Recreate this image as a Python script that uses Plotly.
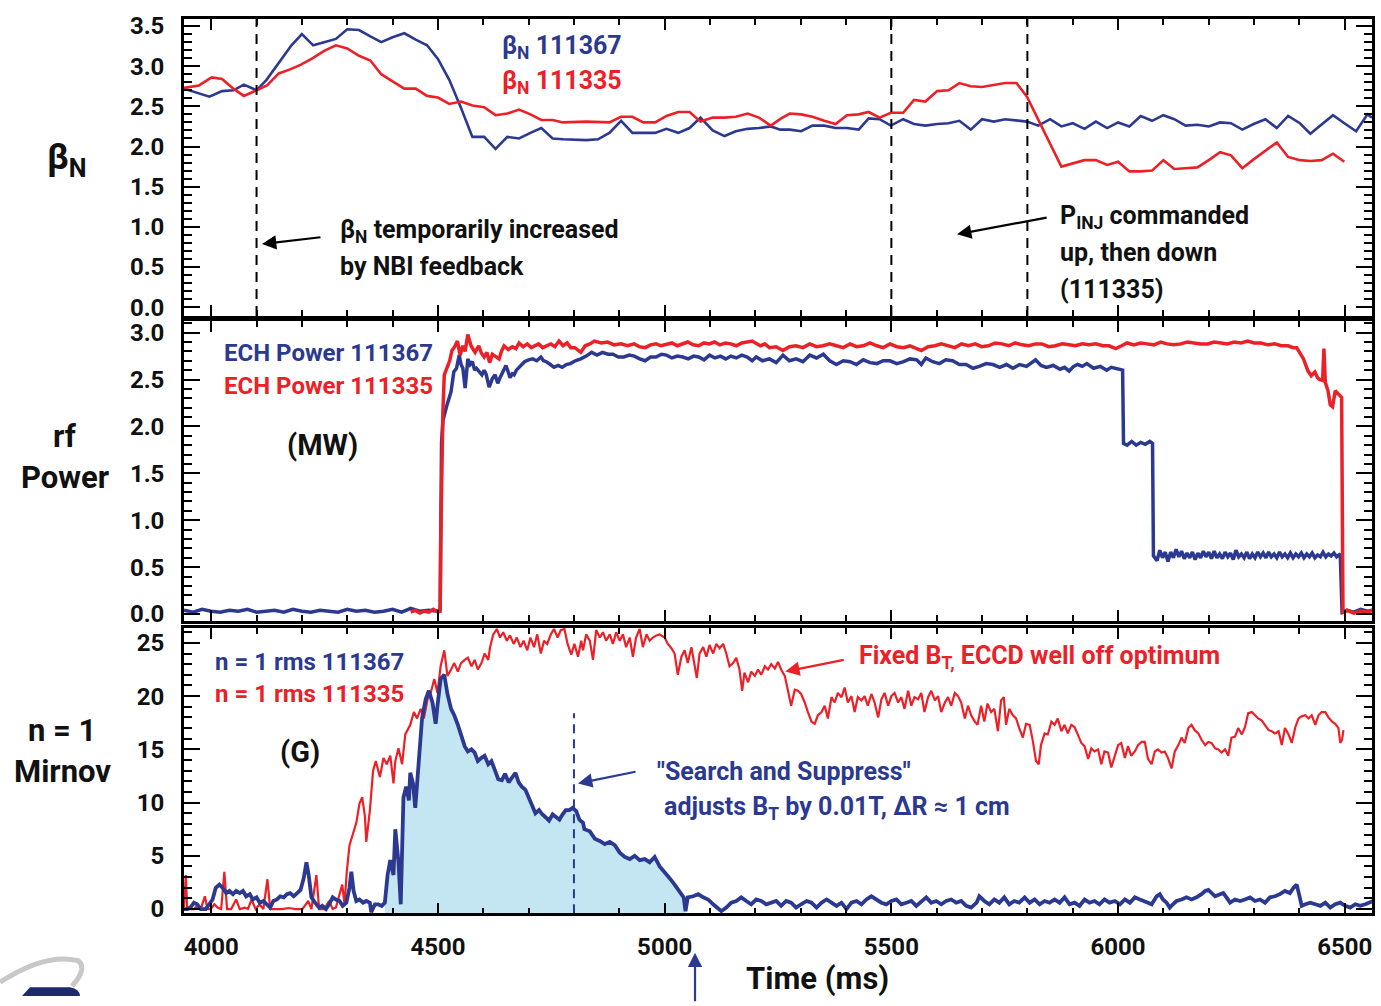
import plotly.graph_objects as go

W, H = 1381, 1006
BLUE = "#2b3990"
RED = "#ec2027"
FILL = "#c4e6f3"
FONT = "Roboto, Liberation Sans, Arial, sans-serif"

# ---------------- data ----------------
x_range = [3940, 6560]
x_ticks = [4000, 4500, 5000, 5500, 6000, 6500]
dash_lines_top = [4100, 5500, 5800]
search_line_t = 4800

bn_111367 = [(3940, 2.72), (3996, 2.62), (4024, 2.69), (4049, 2.70), (4072, 2.77), (4100, 2.70), (4122, 2.83),
             (4147, 3.02), (4177, 3.26), (4200, 3.40), (4225, 3.26), (4251, 3.30), (4275, 3.34), (4300, 3.46),
             (4326, 3.45), (4351, 3.37), (4375, 3.30), (4400, 3.36), (4426, 3.41), (4451, 3.33), (4476, 3.26),
             (4500, 3.09), (4525, 2.83), (4551, 2.48), (4576, 2.12), (4602, 2.12), (4627, 1.97), (4653, 2.12),
             (4679, 2.10), (4704, 2.17), (4728, 2.23), (4753, 2.10), (4776, 2.09), (4827, 2.08), (4853, 2.09),
             (4878, 2.17), (4904, 2.32), (4929, 2.17), (4953, 2.17), (4979, 2.17), (5004, 2.22), (5030, 2.17),
             (5055, 2.23), (5079, 2.36), (5106, 2.20), (5132, 2.13), (5157, 2.19), (5183, 2.22), (5208, 2.23),
             (5234, 2.25), (5255, 2.21), (5276, 2.21), (5301, 2.19), (5326, 2.26), (5352, 2.26), (5377, 2.23),
             (5402, 2.23), (5428, 2.21), (5450, 2.35), (5474, 2.34), (5499, 2.26), (5526, 2.34), (5550, 2.28),
             (5575, 2.26), (5601, 2.28), (5626, 2.29), (5650, 2.32), (5675, 2.21), (5700, 2.34), (5726, 2.31),
             (5751, 2.34), (5776, 2.32), (5799, 2.31), (5824, 2.26), (5850, 2.34), (5875, 2.25), (5900, 2.29),
             (5926, 2.22), (5951, 2.31), (5976, 2.23), (6000, 2.30), (6025, 2.25), (6050, 2.38), (6075, 2.32),
             (6100, 2.39), (6124, 2.34), (6149, 2.26), (6175, 2.27), (6200, 2.25), (6225, 2.30), (6249, 2.29),
             (6274, 2.21), (6299, 2.28), (6325, 2.34), (6350, 2.23), (6375, 2.38), (6401, 2.29), (6424, 2.16),
             (6449, 2.28), (6474, 2.39), (6499, 2.29), (6525, 2.19), (6550, 2.40), (6560, 2.36)]

bn_111335 = [(3940, 2.73), (3973, 2.76), (4001, 2.86), (4024, 2.84), (4049, 2.72), (4072, 2.63), (4100, 2.70),
             (4123, 2.76), (4149, 2.91), (4174, 2.96), (4198, 3.02), (4224, 3.10), (4249, 3.19), (4275, 3.26),
             (4300, 3.22), (4326, 3.13), (4351, 3.07), (4375, 2.90), (4400, 2.81), (4426, 2.72), (4451, 2.72),
             (4476, 2.63), (4500, 2.61), (4525, 2.53), (4551, 2.56), (4576, 2.51), (4602, 2.49), (4627, 2.39),
             (4653, 2.41), (4679, 2.46), (4704, 2.40), (4728, 2.33), (4753, 2.33), (4776, 2.30), (4827, 2.31),
             (4878, 2.30), (4904, 2.37), (4929, 2.37), (4953, 2.30), (4979, 2.30), (5004, 2.38), (5030, 2.43),
             (5055, 2.43), (5079, 2.31), (5106, 2.36), (5132, 2.36), (5157, 2.37), (5183, 2.41), (5208, 2.36),
             (5234, 2.26), (5257, 2.35), (5276, 2.41), (5301, 2.40), (5326, 2.37), (5352, 2.32), (5377, 2.28),
             (5402, 2.39), (5428, 2.40), (5450, 2.43), (5474, 2.36), (5499, 2.42), (5526, 2.42), (5550, 2.58),
             (5575, 2.56), (5601, 2.69), (5626, 2.70), (5650, 2.79), (5675, 2.75), (5700, 2.74), (5726, 2.77),
             (5751, 2.79), (5776, 2.79), (5799, 2.62), (5875, 1.75), (5900, 1.79), (5926, 1.83), (5951, 1.83),
             (5976, 1.77), (6000, 1.81), (6025, 1.69), (6050, 1.69), (6075, 1.70), (6100, 1.83), (6124, 1.72),
             (6149, 1.73), (6175, 1.74), (6200, 1.83), (6225, 1.93), (6249, 1.89), (6274, 1.73), (6299, 1.84),
             (6325, 1.95), (6350, 2.05), (6375, 1.87), (6401, 1.83), (6424, 1.82), (6449, 1.83), (6474, 1.91),
             (6499, 1.81)]

ech_111367 = [(3940, 0.04), (3960, 0.02), (3980, 0.05), (4000, 0.03), (4020, 0.02), (4040, 0.04), (4060, 0.03),
              (4080, 0.05), (4100, 0.02), (4120, 0.03), (4140, 0.04), (4160, 0.02), (4180, 0.05), (4200, 0.03),
              (4220, 0.02), (4240, 0.04), (4260, 0.03), (4280, 0.02), (4300, 0.05), (4320, 0.03), (4340, 0.04),
              (4360, 0.02), (4380, 0.03), (4400, 0.05), (4420, 0.02), (4440, 0.06), (4460, 0.03), (4480, 0.04),
              (4500, 0.03), (4505, 0.05), (4508, 1.83), (4511, 2.06), (4520, 2.23), (4529, 2.37), (4535, 2.58),
              (4541, 2.62), (4547, 2.76), (4551, 2.66), (4555, 2.62), (4560, 2.41), (4566, 2.72), (4571, 2.66),
              (4576, 2.69), (4581, 2.60), (4585, 2.62), (4591, 2.58), (4597, 2.55), (4602, 2.60), (4606, 2.56),
              (4613, 2.42), (4620, 2.51), (4626, 2.55), (4632, 2.46), (4637, 2.52), (4641, 2.56), (4646, 2.62),
              (4650, 2.65), (4655, 2.58), (4659, 2.52), (4664, 2.56), (4668, 2.55), (4673, 2.60), (4679, 2.63),
              (4685, 2.66), (4691, 2.69), (4700, 2.71), (4709, 2.72), (4718, 2.70), (4727, 2.74), (4733, 2.70),
              (4739, 2.69), (4748, 2.66), (4756, 2.63), (4765, 2.65), (4774, 2.63), (4783, 2.66), (4792, 2.67),
              (4803, 2.70), (4815, 2.72), (4827, 2.75), (4839, 2.79), (4851, 2.76), (4863, 2.79), (4875, 2.77),
              (4886, 2.77), (4898, 2.74), (4910, 2.74), (4922, 2.76), (4933, 2.75), (4945, 2.72), (4957, 2.70),
              (4969, 2.74), (4981, 2.74), (4993, 2.77), (5004, 2.76), (5016, 2.73), (5028, 2.75), (5040, 2.74),
              (5052, 2.72), (5064, 2.75), (5075, 2.74), (5087, 2.71), (5099, 2.76), (5111, 2.73), (5123, 2.75),
              (5135, 2.72), (5146, 2.75), (5158, 2.73), (5170, 2.76), (5182, 2.74), (5193, 2.70), (5202, 2.74),
              (5216, 2.70), (5231, 2.72), (5246, 2.68), (5261, 2.76), (5275, 2.70), (5290, 2.72), (5305, 2.69),
              (5320, 2.76), (5335, 2.73), (5350, 2.77), (5364, 2.70), (5379, 2.66), (5394, 2.70), (5409, 2.69),
              (5423, 2.66), (5438, 2.71), (5453, 2.68), (5468, 2.67), (5482, 2.70), (5497, 2.70), (5512, 2.67),
              (5527, 2.69), (5541, 2.72), (5556, 2.71), (5566, 2.66), (5576, 2.73), (5591, 2.69), (5606, 2.67),
              (5620, 2.71), (5635, 2.70), (5650, 2.66), (5665, 2.66), (5680, 2.62), (5694, 2.64), (5709, 2.67),
              (5724, 2.66), (5739, 2.63), (5754, 2.66), (5768, 2.62), (5783, 2.66), (5798, 2.64), (5818, 2.71),
              (5830, 2.65), (5842, 2.63), (5857, 2.65), (5872, 2.61), (5882, 2.63), (5892, 2.59), (5902, 2.64),
              (5911, 2.66), (5921, 2.64), (5931, 2.67), (5946, 2.62), (5961, 2.64), (5975, 2.60), (5985, 2.63),
              (5998, 2.61), (6010, 2.60), (6012, 1.82), (6020, 1.80), (6030, 1.84), (6040, 1.80), (6050, 1.83),
              (6060, 1.81), (6070, 1.84), (6076, 1.82), (6078, 0.62), (6086, 0.57), (6092, 0.68), (6098, 0.60),
              (6104, 0.66), (6110, 0.56), (6116, 0.66), (6122, 0.60), (6128, 0.69), (6134, 0.61), (6140, 0.67),
              (6146, 0.59), (6152, 0.65), (6158, 0.60), (6164, 0.66), (6170, 0.58), (6176, 0.65), (6182, 0.60),
              (6188, 0.67), (6194, 0.61), (6200, 0.66), (6206, 0.59), (6212, 0.67), (6218, 0.60), (6224, 0.64),
              (6230, 0.59), (6236, 0.66), (6242, 0.61), (6248, 0.65), (6254, 0.58), (6260, 0.68), (6266, 0.61),
              (6272, 0.64), (6278, 0.60), (6284, 0.66), (6290, 0.59), (6296, 0.64), (6302, 0.60), (6308, 0.66),
              (6314, 0.61), (6320, 0.65), (6326, 0.60), (6332, 0.66), (6338, 0.61), (6344, 0.64), (6350, 0.60),
              (6356, 0.66), (6362, 0.61), (6368, 0.64), (6374, 0.60), (6380, 0.65), (6386, 0.60), (6392, 0.64),
              (6398, 0.61), (6404, 0.65), (6410, 0.60), (6416, 0.64), (6422, 0.61), (6428, 0.65), (6434, 0.60),
              (6440, 0.63), (6446, 0.61), (6452, 0.66), (6458, 0.61), (6464, 0.64), (6470, 0.62), (6476, 0.65),
              (6482, 0.61), (6490, 0.64), (6494, 0.02), (6505, 0.04), (6520, 0.02), (6535, 0.05), (6550, 0.03),
              (6560, 0.04)]

ech_111335 = [(4440, 0.02), (4450, 0.04), (4460, 0.01), (4470, 0.03), (4480, 0.02), (4490, 0.05), (4500, 0.02),
              (4505, 0.03), (4506, 0.75), (4509, 1.81), (4511, 2.16), (4514, 2.55), (4520, 2.62), (4526, 2.70),
              (4531, 2.81), (4537, 2.85), (4543, 2.91), (4549, 2.76), (4555, 2.86), (4560, 2.80), (4566, 2.98),
              (4573, 2.86), (4578, 2.82), (4582, 2.79), (4590, 2.86), (4596, 2.78), (4602, 2.74), (4608, 2.79),
              (4614, 2.68), (4620, 2.77), (4626, 2.75), (4635, 2.72), (4640, 2.80), (4646, 2.86), (4655, 2.82),
              (4664, 2.85), (4672, 2.83), (4679, 2.89), (4688, 2.85), (4697, 2.88), (4706, 2.84), (4714, 2.86),
              (4722, 2.88), (4731, 2.84), (4740, 2.86), (4749, 2.88), (4758, 2.85), (4767, 2.91), (4776, 2.86),
              (4785, 2.89), (4793, 2.84), (4802, 2.84), (4815, 2.79), (4825, 2.86), (4835, 2.88), (4845, 2.91),
              (4860, 2.89), (4874, 2.90), (4889, 2.87), (4904, 2.88), (4918, 2.86), (4933, 2.88), (4945, 2.85),
              (4957, 2.84), (4969, 2.87), (4981, 2.88), (4992, 2.86), (5003, 2.87), (5016, 2.89), (5028, 2.86),
              (5040, 2.88), (5051, 2.90), (5063, 2.87), (5075, 2.86), (5087, 2.89), (5098, 2.88), (5110, 2.90),
              (5122, 2.87), (5134, 2.89), (5146, 2.88), (5158, 2.86), (5170, 2.89), (5182, 2.90), (5193, 2.91),
              (5211, 2.86), (5221, 2.88), (5231, 2.84), (5246, 2.85), (5261, 2.81), (5275, 2.85), (5290, 2.86),
              (5305, 2.84), (5320, 2.88), (5335, 2.85), (5349, 2.86), (5364, 2.88), (5379, 2.86), (5394, 2.84),
              (5409, 2.88), (5423, 2.85), (5438, 2.86), (5453, 2.89), (5468, 2.86), (5482, 2.84), (5497, 2.88),
              (5512, 2.85), (5527, 2.84), (5541, 2.86), (5556, 2.83), (5566, 2.81), (5581, 2.85), (5596, 2.86),
              (5610, 2.88), (5625, 2.86), (5640, 2.84), (5655, 2.88), (5670, 2.86), (5685, 2.88), (5699, 2.85),
              (5714, 2.86), (5729, 2.89), (5744, 2.88), (5759, 2.86), (5773, 2.89), (5788, 2.87), (5803, 2.86),
              (5818, 2.88), (5832, 2.88), (5847, 2.85), (5862, 2.86), (5877, 2.88), (5892, 2.87), (5906, 2.86),
              (5921, 2.88), (5936, 2.87), (5951, 2.88), (5966, 2.86), (5980, 2.86), (5995, 2.83), (6008, 2.86),
              (6020, 2.89), (6035, 2.87), (6049, 2.89), (6064, 2.88), (6079, 2.87), (6094, 2.90), (6108, 2.88),
              (6123, 2.87), (6138, 2.88), (6153, 2.90), (6168, 2.89), (6182, 2.88), (6197, 2.88), (6212, 2.90),
              (6227, 2.89), (6241, 2.88), (6256, 2.90), (6271, 2.89), (6286, 2.91), (6300, 2.89), (6315, 2.89),
              (6330, 2.87), (6345, 2.88), (6360, 2.86), (6375, 2.86), (6386, 2.84), (6394, 2.84), (6402, 2.78),
              (6409, 2.72), (6415, 2.64), (6419, 2.59), (6426, 2.54), (6434, 2.58), (6440, 2.52), (6444, 2.50),
              (6451, 2.49), (6454, 2.83), (6457, 2.47), (6463, 2.38), (6468, 2.23), (6473, 2.21), (6479, 2.38),
              (6485, 2.35), (6493, 2.31), (6496, 0.02), (6505, 0.04), (6520, 0.01), (6535, 0.03), (6550, 0.02),
              (6560, 0.04)]

mirnov_111335 = [(3940, 0.2), (3944, 3.2), (3947, 0.0), (3954, 0.0), (3962, 0.0), (3969, 0.3), (3977, 0.0),
                 (3986, 1.2), (3992, 0.0), (3999, 0.0), (4007, 0.45), (4014, 0.14), (4022, 0.0), (4029, 3.5),
                 (4035, 0.0), (4044, 0.0), (4055, 0.9), (4063, 0.0), (4074, 0.14), (4081, 0.0), (4089, 0.9),
                 (4098, 0.0), (4107, 0.45), (4115, 0.0), (4124, 2.8), (4130, 0.0), (4141, 0.0), (4156, 0.0),
                 (4171, 0.1), (4186, 0.0), (4201, 0.0), (4214, 0.76), (4221, 0.0), (4232, 3.2), (4238, 0.0),
                 (4249, 0.0), (4260, 0.76), (4268, 0.0), (4275, 0.14), (4283, 1.37), (4289, 2.3), (4294, 0.45),
                 (4299, 3.5), (4305, 6.0), (4312, 6.9), (4320, 8.1), (4327, 9.9), (4333, 10.5), (4339, 8.7),
                 (4342, 6.3), (4350, 9.3), (4357, 13.0), (4363, 13.9), (4372, 12.4), (4380, 14.2), (4387, 13.6),
                 (4395, 14.4), (4402, 11.8), (4406, 13.9), (4413, 15.1), (4421, 13.6), (4428, 16.4), (4439, 17.3),
                 (4447, 18.5), (4454, 17.9), (4462, 18.8), (4469, 17.9), (4477, 19.7), (4484, 20.3), (4492, 21.6),
                 (4499, 20.3), (4506, 22.8), (4514, 24.3), (4521, 21.9), (4529, 22.5), (4536, 23.1), (4544, 22.3),
                 (4551, 23.1), (4559, 23.4), (4566, 23.6), (4574, 22.8), (4581, 23.4), (4588, 22.5), (4596, 23.1),
                 (4603, 24.0), (4611, 23.4), (4615, 24.6), (4622, 25.8), (4630, 26.3), (4637, 25.5), (4644, 26.0),
                 (4652, 25.2), (4659, 25.7), (4667, 24.9), (4674, 25.5), (4682, 24.6), (4689, 25.2), (4697, 24.3),
                 (4704, 25.5), (4712, 24.6), (4719, 25.8), (4727, 24.0), (4734, 25.2), (4741, 24.9), (4749, 25.8),
                 (4756, 26.3), (4764, 25.5), (4771, 26.2), (4779, 26.3), (4786, 24.9), (4794, 23.9), (4801, 24.9),
                 (4809, 23.7), (4816, 25.2), (4820, 24.3), (4827, 25.8), (4835, 25.2), (4842, 23.4), (4849, 26.2),
                 (4857, 25.5), (4864, 26.0), (4871, 25.2), (4879, 25.8), (4886, 24.9), (4893, 26.0), (4901, 25.2),
                 (4908, 25.8), (4915, 24.6), (4923, 25.5), (4930, 23.7), (4937, 25.5), (4945, 26.3), (4952, 24.6),
                 (4960, 25.8), (4967, 25.2), (4974, 25.5), (4982, 25.7), (4989, 25.8), (5000, 25.5), (5007, 24.9),
                 (5015, 24.5), (5022, 24.0), (5029, 22.0), (5037, 23.7), (5044, 24.3), (5051, 23.1), (5059, 24.6),
                 (5066, 22.8), (5071, 21.7), (5077, 24.0), (5085, 24.6), (5092, 23.7), (5099, 24.8), (5107, 24.0),
                 (5114, 24.9), (5121, 24.5), (5129, 24.9), (5136, 24.0), (5143, 22.8), (5151, 23.1), (5158, 23.6),
                 (5165, 22.5), (5171, 20.5), (5176, 22.2), (5184, 21.3), (5191, 22.3), (5199, 21.9), (5206, 22.5),
                 (5213, 22.0), (5221, 22.8), (5228, 22.5), (5235, 23.0), (5243, 22.6), (5250, 23.2), (5257, 22.5),
                 (5265, 21.9), (5272, 20.6), (5279, 19.1), (5287, 20.6), (5294, 20.5), (5301, 20.2), (5309, 19.4),
                 (5316, 18.5), (5324, 17.6), (5331, 17.4), (5338, 18.2), (5346, 18.5), (5353, 19.1), (5360, 17.9),
                 (5368, 19.9), (5375, 19.4), (5382, 20.3), (5390, 19.9), (5397, 20.8), (5404, 19.4), (5412, 20.0),
                 (5419, 18.5), (5426, 19.9), (5434, 19.6), (5441, 20.0), (5448, 19.1), (5456, 20.2), (5463, 19.4),
                 (5471, 18.0), (5478, 19.7), (5485, 20.3), (5493, 19.1), (5500, 20.0), (5507, 20.3), (5515, 19.4),
                 (5522, 19.9), (5529, 18.8), (5537, 20.5), (5544, 19.1), (5551, 19.9), (5559, 19.7), (5566, 20.3),
                 (5573, 18.5), (5581, 19.9), (5588, 20.5), (5596, 19.6), (5603, 20.0), (5610, 18.5), (5618, 19.4),
                 (5625, 19.9), (5632, 19.1), (5640, 20.3), (5647, 20.0), (5654, 19.4), (5662, 17.9), (5669, 19.1),
                 (5676, 18.2), (5684, 17.6), (5690, 17.3), (5698, 19.1), (5705, 17.6), (5712, 19.3), (5720, 18.5),
                 (5727, 18.8), (5735, 16.7), (5742, 19.6), (5748, 19.9), (5753, 17.3), (5760, 18.8), (5768, 18.2),
                 (5775, 17.9), (5782, 17.0), (5790, 16.1), (5797, 17.4), (5805, 17.3), (5812, 15.8), (5819, 13.9),
                 (5825, 13.6), (5830, 15.4), (5838, 16.5), (5845, 16.4), (5853, 17.6), (5860, 17.3), (5867, 17.9),
                 (5875, 16.7), (5882, 17.3), (5889, 16.5), (5897, 17.3), (5904, 17.1), (5911, 16.4), (5919, 15.6),
                 (5926, 15.3), (5934, 14.1), (5941, 15.1), (5948, 14.8), (5956, 15.0), (5963, 13.6), (5970, 14.8),
                 (5978, 14.7), (5985, 13.3), (5993, 14.4), (6000, 15.4), (6007, 15.6), (6015, 14.2), (6022, 15.3),
                 (6029, 14.4), (6037, 14.8), (6044, 15.4), (6052, 15.7), (6059, 15.7), (6066, 14.1), (6074, 13.6),
                 (6081, 14.8), (6088, 15.0), (6096, 14.7), (6103, 14.8), (6110, 14.2), (6118, 13.2), (6125, 14.8),
                 (6133, 15.4), (6140, 16.1), (6147, 15.6), (6155, 17.0), (6162, 17.3), (6169, 16.8), (6177, 16.5),
                 (6184, 15.9), (6192, 15.4), (6199, 15.7), (6206, 15.6), (6214, 15.1), (6221, 15.0), (6228, 14.7),
                 (6236, 15.0), (6243, 14.4), (6250, 16.1), (6258, 16.2), (6265, 17.0), (6273, 16.4), (6280, 17.1),
                 (6287, 18.4), (6295, 18.5), (6302, 18.2), (6309, 17.9), (6317, 17.7), (6324, 17.3), (6332, 16.8),
                 (6339, 16.7), (6346, 16.5), (6354, 16.7), (6361, 15.4), (6368, 17.0), (6376, 16.4), (6383, 15.6),
                 (6391, 17.1), (6398, 17.9), (6405, 18.1), (6413, 18.2), (6420, 17.9), (6427, 18.2), (6435, 17.3),
                 (6442, 18.2), (6449, 18.5), (6457, 18.5), (6464, 18.0), (6472, 17.6), (6479, 17.4), (6486, 17.0),
                 (6490, 15.6), (6494, 15.9), (6497, 16.8)]

mirnov_111367 = [(3940, 0.0), (3947, 0.0), (3954, 0.14), (3962, 0.6), (3969, 0.45), (3977, 0.0), (3988, 0.0),
                 (3995, 0.45), (4003, 0.9), (4010, 2.0), (4018, 2.3), (4025, 2.0), (4033, 1.5), (4040, 1.7),
                 (4048, 1.4), (4055, 1.7), (4063, 1.5), (4070, 1.7), (4077, 1.2), (4085, 1.4), (4092, 0.9),
                 (4100, 1.1), (4107, 0.6), (4115, 0.76), (4122, 0.45), (4130, 0.14), (4137, 0.76), (4145, 0.9),
                 (4152, 1.2), (4160, 1.1), (4167, 1.4), (4174, 1.5), (4182, 1.2), (4189, 1.5), (4197, 1.8),
                 (4204, 2.9), (4210, 4.4), (4215, 3.2), (4221, 1.1), (4229, 0.6), (4238, 0.14), (4245, 0.3),
                 (4253, 0.0), (4260, 0.45), (4268, 1.1), (4275, 0.9), (4283, 0.76), (4290, 0.3), (4298, 0.6),
                 (4305, 2.0), (4309, 3.5), (4314, 1.7), (4320, 0.76), (4327, 0.9), (4335, 0.6), (4342, 0.76),
                 (4350, 0.6), (4353, -0.3), (4361, 0.45), (4368, 0.45), (4376, 0.3), (4383, 0.6), (4389, 3.2),
                 (4395, 4.6), (4402, 3.2), (4406, 7.5), (4413, 4.4), (4418, 0.45), (4424, 10.5), (4430, 11.5),
                 (4436, 10.2), (4439, 12.8), (4445, 11.8), (4450, 9.5), (4458, 13.6), (4465, 17.9), (4473, 19.7),
                 (4480, 20.5), (4488, 19.4), (4495, 17.4), (4499, 19.1), (4506, 21.6), (4514, 22.0), (4521, 20.2),
                 (4529, 18.8), (4536, 18.2), (4544, 17.3), (4551, 16.4), (4559, 15.3), (4566, 14.8), (4574, 15.0),
                 (4581, 14.7), (4588, 13.9), (4596, 14.2), (4603, 14.4), (4611, 13.6), (4618, 13.9), (4626, 13.0),
                 (4633, 12.2), (4641, 12.1), (4648, 12.7), (4656, 11.9), (4663, 12.4), (4671, 12.8), (4678, 11.9),
                 (4685, 11.5), (4693, 11.2), (4700, 10.5), (4708, 9.6), (4715, 9.0), (4723, 9.3), (4730, 8.9),
                 (4738, 8.6), (4745, 8.3), (4753, 8.9), (4760, 8.7), (4768, 8.4), (4775, 8.9), (4782, 9.3),
                 (4790, 9.3), (4797, 9.5), (4805, 9.2), (4812, 8.4), (4820, 8.1), (4823, 7.5), (4835, 7.3),
                 (4846, 6.6), (4857, 6.4), (4868, 6.1), (4879, 6.3), (4890, 6.0), (4901, 5.3), (4912, 4.9),
                 (4923, 4.7), (4934, 5.0), (4945, 4.6), (4956, 4.7), (4967, 4.4), (4978, 4.9), (4989, 4.0),
                 (5000, 3.5), (5011, 2.9), (5022, 2.3), (5033, 1.7), (5042, 1.1), (5046, -0.2), (5051, 1.1),
                 (5063, 1.2), (5074, 1.4), (5085, 1.1), (5096, 0.9), (5107, 0.45), (5118, 0.0), (5125, -0.2),
                 (5136, 0.14), (5147, 0.6), (5158, 0.76), (5169, 1.1), (5180, 0.76), (5191, 0.45), (5202, 0.9),
                 (5213, 0.76), (5224, 0.45), (5235, 0.6), (5246, 0.76), (5257, 0.3), (5268, 0.76), (5279, 0.6),
                 (5290, 0.14), (5301, 0.45), (5313, 0.76), (5324, 0.6), (5335, 0.14), (5346, 0.6), (5357, 0.9),
                 (5368, 0.6), (5379, 0.3), (5390, 0.6), (5401, 0.0), (5412, 0.6), (5423, 0.76), (5434, 0.45),
                 (5445, 0.9), (5456, 1.2), (5467, 0.9), (5478, 0.6), (5489, 0.45), (5500, 0.76), (5511, 0.9),
                 (5522, 0.45), (5533, 0.6), (5544, 0.76), (5555, 0.3), (5566, 0.76), (5577, 1.1), (5588, 0.6),
                 (5599, 0.76), (5610, 0.45), (5621, 0.76), (5632, 0.9), (5643, 0.6), (5654, 0.76), (5665, 0.3),
                 (5676, 0.14), (5688, 0.6), (5694, 1.2), (5705, 0.76), (5716, 0.45), (5727, 0.9), (5738, 0.6),
                 (5749, 1.1), (5760, 0.45), (5771, 0.76), (5782, 0.6), (5794, 1.1), (5805, 0.6), (5816, 0.9),
                 (5827, 0.45), (5838, 0.76), (5849, 0.6), (5860, 0.9), (5871, 0.6), (5882, 1.1), (5893, 0.45),
                 (5904, 0.6), (5915, 0.3), (5926, 0.9), (5937, 0.6), (5948, 0.76), (5959, 0.45), (5970, 0.9),
                 (5981, 0.6), (5993, 0.76), (6004, 0.45), (6015, 0.9), (6026, 0.6), (6037, 1.1), (6048, 0.9),
                 (6059, 0.76), (6066, 0.6), (6074, 0.45), (6085, 1.2), (6092, 1.4), (6099, 0.9), (6107, 0.6),
                 (6114, 0.14), (6121, 0.45), (6129, 0.76), (6140, 0.9), (6151, 1.1), (6162, 0.9), (6173, 1.1),
                 (6184, 1.4), (6192, 1.7), (6199, 1.8), (6206, 1.5), (6214, 1.2), (6225, 1.4), (6232, 1.5),
                 (6239, 1.1), (6247, 0.6), (6258, 0.9), (6269, 0.76), (6280, 0.9), (6291, 1.1), (6302, 0.76),
                 (6313, 0.9), (6324, 0.6), (6335, 1.1), (6346, 1.2), (6357, 1.4), (6368, 1.7), (6379, 1.5),
                 (6387, 2.0), (6394, 2.3), (6399, 1.4), (6405, 0.3), (6413, 0.45), (6424, 0.6), (6435, 0.45),
                 (6446, 0.3), (6457, 0.6), (6468, 0.14), (6479, 0.45), (6490, 0.6), (6501, 0.3), (6512, 0.14),
                 (6523, 0.45), (6534, 0.3), (6545, 0.45), (6556, 0.6), (6563, 0.76)]

shade_t_range = [4383, 5046]

# ---------------- layout geometry ----------------
def P(x):
    return x / W

def Q(y):
    return 1 - y / H

X_DOM = [P(184), P(1372)]
Y1_DOM = [Q(315), Q(13)]
Y2_DOM = [Q(625), Q(320)]
Y3_DOM = [Q(922), Q(632)]
Y1_RANGE = [-0.11, 3.59]
Y2_RANGE = [-0.075, 3.125]
Y3_RANGE = [-0.4, 26.4]

def unzip(pairs):
    return [p[0] for p in pairs], [p[1] for p in pairs]

fig = go.Figure()

# shaded area under 111367 Mirnov
st, sv = unzip([p for p in mirnov_111367 if shade_t_range[0] <= p[0] <= shade_t_range[1]])
fig.add_trace(go.Scatter(x=[st[0]] + st + [st[-1]], y=[Y3_RANGE[0]] + sv + [Y3_RANGE[0]],
                         fill="toself", fillcolor=FILL, line=dict(width=0), mode="lines",
                         xaxis="x3", yaxis="y3", hoverinfo="skip"))

t, v = unzip(bn_111367)
fig.add_trace(go.Scatter(x=t, y=v, mode="lines", line=dict(color=BLUE, width=2.6), xaxis="x", yaxis="y"))
t, v = unzip(bn_111335)
fig.add_trace(go.Scatter(x=t, y=v, mode="lines", line=dict(color=RED, width=2.6), xaxis="x", yaxis="y"))

t, v = unzip(ech_111367)
fig.add_trace(go.Scatter(x=t, y=v, mode="lines", line=dict(color=BLUE, width=3.5), xaxis="x2", yaxis="y2"))
t, v = unzip(ech_111335)
fig.add_trace(go.Scatter(x=t, y=v, mode="lines", line=dict(color=RED, width=3.5), xaxis="x2", yaxis="y2"))

t, v = unzip(mirnov_111335)
fig.add_trace(go.Scatter(x=t, y=v, mode="lines", line=dict(color=RED, width=2.2), xaxis="x3", yaxis="y3"))
t, v = unzip(mirnov_111367)
fig.add_trace(go.Scatter(x=t, y=v, mode="lines", line=dict(color=BLUE, width=3.8), xaxis="x3", yaxis="y3"))

TICKFONT = dict(family=FONT, size=24, color="#111", weight="bold")

def xax(show_labels, anchor):
    return dict(domain=X_DOM, range=x_range, anchor=anchor, tickvals=x_ticks,
                ticks="inside", ticklen=11, tickwidth=2.2, tickcolor="black",
                minor=dict(dtick=100, tick0=4000, ticks="inside", ticklen=6, tickwidth=2, tickcolor="black"),
                showline=True, linewidth=2.6, linecolor="black", mirror="allticks",
                showgrid=False, zeroline=False, showticklabels=show_labels,
                ticklabelstandoff=10, tickfont=TICKFONT)

def yax(rng, dtick, minor, fmt, dom, anchor):
    return dict(domain=dom, range=rng, anchor=anchor, tick0=0, dtick=dtick, tickformat=fmt,
                ticks="inside", ticklen=16, tickwidth=2.4, tickcolor="black",
                minor=dict(dtick=minor, tick0=0, ticks="inside", ticklen=8, tickwidth=2, tickcolor="black"),
                showline=True, linewidth=2.6, linecolor="black", mirror="allticks",
                showgrid=False, zeroline=False, ticklabelstandoff=12, tickfont=TICKFONT)

fig.update_layout(
    width=W, height=H, margin=dict(l=0, r=0, t=0, b=0),
    paper_bgcolor="white", plot_bgcolor="white", showlegend=False,
    xaxis=xax(False, "y"), xaxis2=xax(False, "y2"), xaxis3=xax(True, "y3"),
    yaxis=yax(Y1_RANGE, 0.5, 0.1, ".1f", Y1_DOM, "x"),
    yaxis2=yax(Y2_RANGE, 0.5, 0.1, ".1f", Y2_DOM, "x2"),
    yaxis3=yax(Y3_RANGE, 5, 1, "d", Y3_DOM, "x3"),
)

shapes = []
for tx in dash_lines_top:
    shapes.append(dict(type="line", xref="x", yref="y domain", x0=tx, x1=tx, y0=0, y1=1,
                       line=dict(color="black", width=2, dash="10px,7px")))
shapes.append(dict(type="line", xref="x3", yref="y3", x0=search_line_t, x1=search_line_t,
                   y0=Y3_RANGE[0], y1=18.4, line=dict(color=BLUE, width=2, dash="9px,6px")))
# partial logo at bottom-left corner
shapes.append(dict(type="path", xref="paper", yref="paper",
                   path=f"M {P(0)},{Q(992)} Q {P(45)},{Q(962)} {P(78)},{Q(970)} Q {P(88)},{Q(978)} {P(72)},{Q(996)}",
                   line=dict(color="#c8c8c8", width=5)))
shapes.append(dict(type="path", xref="paper", yref="paper",
                   path=f"M {P(22)},{Q(1006)} L {P(30)},{Q(997)} L {P(70)},{Q(997)} Q {P(80)},{Q(999)} {P(80)},{Q(1006)} Z",
                   fillcolor="#1d2a6b", line=dict(width=0)))
fig.update_layout(shapes=shapes)

def txt(text, x, y, color="#111", size=25, xanchor="left"):
    return dict(text=text, x=P(x), y=Q(y), xref="paper", yref="paper", showarrow=False,
                xanchor=xanchor, yanchor="middle",
                font=dict(family=FONT, size=size, color=color, weight="bold"))

def arrow(xref, yref, x, y, ax, ay, color):
    return dict(text="", x=x, y=y, xref=xref, yref=yref, ax=ax, ay=ay, axref="pixel", ayref="pixel",
                showarrow=True, arrowhead=2, arrowsize=1.3, arrowwidth=2.2, arrowcolor=color)

ann = [
    txt("β<sub>N</sub> 111367", 500, 42, BLUE),
    txt("β<sub>N</sub> 111335", 500, 77, RED),
    txt("β<sub>N</sub> temporarily increased", 338, 229),
    txt("by NBI feedback", 338, 265),
    txt("P<sub>INJ</sub> commanded", 1058, 214),
    txt("up, then down", 1058, 250),
    txt("(111335)", 1058, 288),
    txt("β<sub>N</sub>", 66, 156, size=36, xanchor="center"),
    txt("ECH Power 111367", 222, 353, BLUE, size=24),
    txt("ECH Power 111335", 222, 386, RED, size=24),
    txt("(MW)", 322, 446, size=29, xanchor="center"),
    txt("rf", 65, 437, size=31, xanchor="center"),
    txt("Power", 65, 479, size=31, xanchor="center"),
    txt("n = 1 rms 111367", 213, 667, BLUE, size=24),
    txt("n = 1 rms 111335", 213, 699, RED, size=24),
    txt("(G)", 300, 758, size=29, xanchor="center"),
    txt("n = 1", 62, 736, size=31, xanchor="center"),
    txt("Mirnov", 62, 778, size=31, xanchor="center"),
    txt("Fixed B<sub>T,</sub> ECCD well off optimum", 857, 662, RED),
    txt("\"Search and Suppress\"", 655, 778, BLUE),
    txt("adjusts B<sub>T</sub> by 0.01T, ΔR ≈ 1 cm", 662, 815, BLUE),
    txt("Time (ms)", 817, 988, size=31, xanchor="center"),
    arrow("x", "y", 4112, 0.785, 60, -7, "black"),
    arrow("x", "y", 5645, 0.907, 91, -17, "black"),
    arrow("x3", "y3", 5266, 22.3, 60, -12, RED),
    arrow("x3", "y3", 4809, 11.8, 59, -12, BLUE),
    dict(text="", x=5067, y=Q(962), xref="x3", yref="paper", ax=0, ay=50, axref="pixel", ayref="pixel",
         showarrow=True, arrowhead=2, arrowsize=1.3, arrowwidth=2.2, arrowcolor=BLUE),
]
fig.update_layout(annotations=ann)

fig.write_html("out.html")
